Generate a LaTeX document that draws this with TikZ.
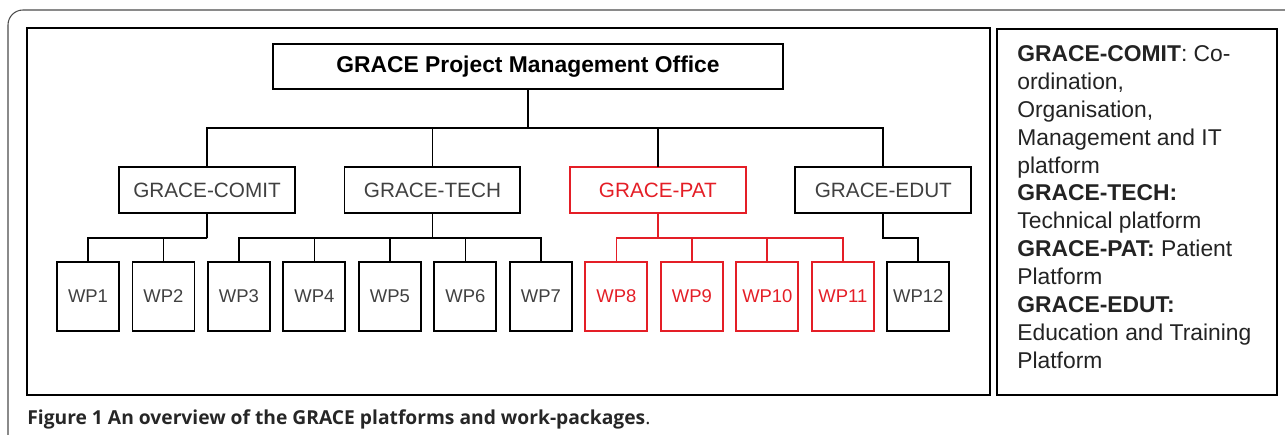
\documentclass[tikz,border=0pt]{standalone}
\usepackage{fontspec}
\setmainfont{Liberation Sans}
\newfontfamily\captionfont{Open Sans}
\usetikzlibrary{positioning}
\definecolor{patred}{RGB}{228,30,38}
\definecolor{boxtext}{RGB}{64,64,64}
\definecolor{legendtext}{RGB}{35,35,35}

\begin{document}
\begin{tikzpicture}[
  x=0.02cm, y=-0.02cm, node distance=0cm,
  officenode/.style={rectangle, draw=black, line width=1.1pt, outer sep=0pt, minimum width=10.2cm, minimum height=0.9cm, font=\fontsize{13pt}{15pt}\selectfont\bfseries},
  platformnode/.style={rectangle, draw=black, line width=1.1pt, outer sep=0pt, minimum width=3.52cm, minimum height=0.92cm, text=boxtext, font=\fontsize{11.8pt}{14pt}\selectfont},
  wpnode/.style={rectangle, draw=black, line width=1.1pt, outer sep=0pt, inner sep=0pt, minimum width=1.24cm, minimum height=1.38cm, text=boxtext, font=\fontsize{10.5pt}{12pt}\selectfont},
  patnode/.style={draw=patred, text=patred},
  link/.style={line width=1pt},
  patlink/.style={line width=1pt, draw=patred}
]
\useasboundingbox (0,0) rectangle (1285,435);

%Frames
\draw[line width=0.6pt, black!70, rounded corners=0.3cm] (1285,10) -| (8,435);
\draw[line width=1.3pt] (27,28) rectangle (990,395);
\draw[line width=1.3pt] (997,29) rectangle (1277,395);

%Nodes
\node[officenode] (office) at (528,66.5) {GRACE Project Management Office};

\node[platformnode] (COMIT) at (207,190) {GRACE-COMIT};
\node[platformnode, right=0.99cm of COMIT] (TECH) {GRACE-TECH};
\node[platformnode, patnode, right=0.99cm of TECH] (PAT) {GRACE-PAT};
\node[platformnode, right=0.99cm of PAT] (EDUT) {GRACE-EDUT};

%Work packages
\node[wpnode] (WP1) at (88,296.5) {WP1};
\node[wpnode, right=0.27cm of WP1] (WP2) {WP2};
\node[wpnode, right=0.27cm of WP2] (WP3) {WP3};
\node[wpnode, right=0.27cm of WP3] (WP4) {WP4};
\node[wpnode, right=0.27cm of WP4] (WP5) {WP5};
\node[wpnode, right=0.27cm of WP5] (WP6) {WP6};
\node[wpnode, right=0.27cm of WP6] (WP7) {WP7};
\node[wpnode, patnode, right=0.27cm of WP7] (WP8) {WP8};
\node[wpnode, patnode, right=0.27cm of WP8] (WP9) {WP9};
\node[wpnode, patnode, right=0.27cm of WP9] (WP10) {WP10};
\node[wpnode, patnode, right=0.27cm of WP10] (WP11) {WP11};
\node[wpnode, right=0.27cm of WP11] (WP12) {WP12};

%Lines
\coordinate (topbar) at (528,128);
\draw[link] (office) -- (topbar);
\draw[link] (COMIT.north) |- (topbar) -| (EDUT.north);
\draw[link] (TECH.north) -- (TECH.north |- topbar);
\draw[link] (PAT.north) -- (PAT.north |- topbar);

\coordinate (comitbar) at (207,238);
\coordinate (techbar) at (TECH.south |- comitbar);
\coordinate (patbar) at (PAT.south |- comitbar);
\coordinate (edutbar) at (EDUT.south |- comitbar);

\draw[link] (COMIT) -- (comitbar);
\draw[link] (WP1.north) |- (comitbar) -| (WP2.north);

\draw[link] (TECH) -- (techbar);
\draw[link] (WP3.north) |- (techbar) -| (WP7.north);
\draw[link] (WP4.north) -- (WP4.north |- techbar);
\draw[link] (WP5.north) -- (WP5.north |- techbar);
\draw[link] (WP6.north) -- (WP6.north |- techbar);

\draw[patlink] (PAT) -- (patbar);
\draw[patlink] (WP8.north) |- (patbar) -| (WP11.north);
\draw[patlink] (WP9.north) -- (WP9.north |- patbar);
\draw[patlink] (WP10.north) -- (WP10.north |- patbar);

\draw[link] (EDUT) -- (edutbar) -| (WP12.north);

%Legend
\node[anchor=north west, inner sep=0pt, align=left, text=legendtext, font=\fontsize{13pt}{15.9pt}\selectfont] (legend) at (1017,45)
  {\textbf{GRACE-COMIT}: Co-\\ordination,\\Organisation,\\Management and IT\\platform\\
   \textbf{GRACE-TECH:}\\Technical platform\\\textbf{GRACE-PAT:} Patient\\Platform\\
   \textbf{GRACE-EDUT:}\\Education and Training\\Platform};

%Caption
\node[anchor=base west, inner sep=0pt, text=black!85, font=\captionfont\fontsize{10.95pt}{12.5pt}\selectfont] (caption) at (27,425)
  {\textbf{Figure 1 An overview of the GRACE platforms and work-packages}.};

\end{tikzpicture}
\end{document}
